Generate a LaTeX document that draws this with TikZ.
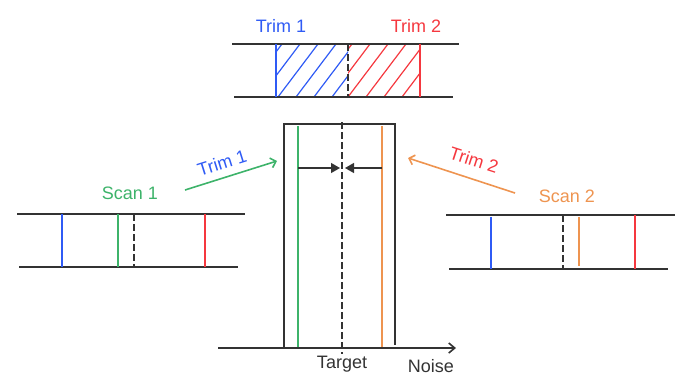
\documentclass[tikz,border=0pt]{standalone}
\usepackage{fontspec}
\setmainfont{Liberation Sans}
\usetikzlibrary{arrows.meta}
\definecolor{cblue}{HTML}{2F5BF5}
\definecolor{cgreen}{HTML}{3DB36A}
\definecolor{cred}{HTML}{F5383F}
\definecolor{corange}{HTML}{EE9450}
\definecolor{cdark}{HTML}{333333}
\begin{document}
\begin{tikzpicture}[x=1pt,y=-1pt,
  lbl/.style={font=\fontsize{18}{20}\selectfont, inner sep=1pt},
  base/.style={line width=1.6pt, cdark},
  vline/.style={line width=1.6pt},
  dashline/.style={line width=1.6pt, cdark, dash pattern=on 7pt off 3pt},
  hatchb/.style={line width=1.2pt, cblue},
  hatchr/.style={line width=1.2pt, cred},
  arr/.style={line width=1.6pt, -{Straight Barb[length=5pt,width=10pt]}},
  tri/.style={line width=1.3pt, cdark, -{Triangle[length=9pt,width=10pt]}}
]
\useasboundingbox (0,0) rectangle (678,376);
% ---------- top box ----------
\begin{scope}
\clip (276,44) rectangle (348,97);
\foreach \k in {0,...,6} {\draw[hatchb] (242+\k*18,97) -- ++(40,-53);}
\end{scope}
\begin{scope}
\clip (348,44) rectangle (420,97);
\foreach \k in {0,...,6} {\draw[hatchr] (312+\k*18,97) -- ++(40,-53);}
\end{scope}
\draw[base] (232,44) -- (459,44);
\draw[base] (234,97) -- (453,97);
\draw[vline, cblue] (276,44) -- (276,97);
\draw[vline, cred] (420,44) -- (420,97);
\draw[dashline] (348,44) -- (348,97);
\node[lbl, text=cblue] (t1) at (281,26) {Trim 1};
\node[lbl, text=cred] (t2) at (416,26) {Trim 2};
% ---------- centre ----------
\draw[base] (284,348) -- (284,124) -- (395,124) -- (395,345);
\draw[vline, cgreen] (298,126) -- (298,348);
\draw[vline, corange] (382,126) -- (382,348);
\draw[dashline] (342,122) -- (342,354);
\draw[base, -{Straight Barb[length=6pt,width=10pt]}] (218,348) -- (456,348);
\coordinate (gA) at (298,168);
\coordinate (dL) at (340,168);
\coordinate (oA) at (382,168);
\coordinate (dR) at (345,168);
\draw[tri] (gA) -- (dL);
\draw[tri] (oA) -- (dR);
\node[lbl, text=cdark] (target) at (342,364) {Target};
\node[lbl, text=cdark] (noise) at (431,366) {Noise};
% ---------- left scan ----------
\draw[base] (17,214) -- (245,214);
\draw[base] (19,267) -- (238,267);
\draw[vline, cblue] (62,214) -- (62,267);
\draw[vline, cgreen] (118,214) -- (118,267);
\draw[dashline] (134,214) -- (134,267);
\draw[vline, cred] (205,214) -- (205,267);
\node[lbl, text=cgreen] (s1) at (130,193) {Scan 1};
% ---------- right scan ----------
\draw[base] (446,215) -- (675,215);
\draw[base] (449,269) -- (668,269);
\draw[vline, cblue] (491,217) -- (491,269);
\draw[dashline] (563,215) -- (563,269);
\draw[line width=1.2pt, corange] (579,217) -- (579,266);
\draw[vline, cred] (635,215) -- (635,269);
\node[lbl, text=corange] (s2) at (567,196) {Scan 2};
% ---------- arrows ----------
\coordinate (a1s) at (185,190);
\coordinate (a1e) at (277,161);
\coordinate (a2s) at (515,193);
\coordinate (a2e) at (408,158);
\draw[arr, cgreen] (a1s) -- (a1e);
\draw[arr, corange] (a2s) -- (a2e);
\node[lbl, text=cblue, rotate=17.5] (l1) at (222,163) {Trim 1};
\node[lbl, text=cred, rotate=-18] (l2) at (474,160) {Trim 2};
\end{tikzpicture}
\end{document}
